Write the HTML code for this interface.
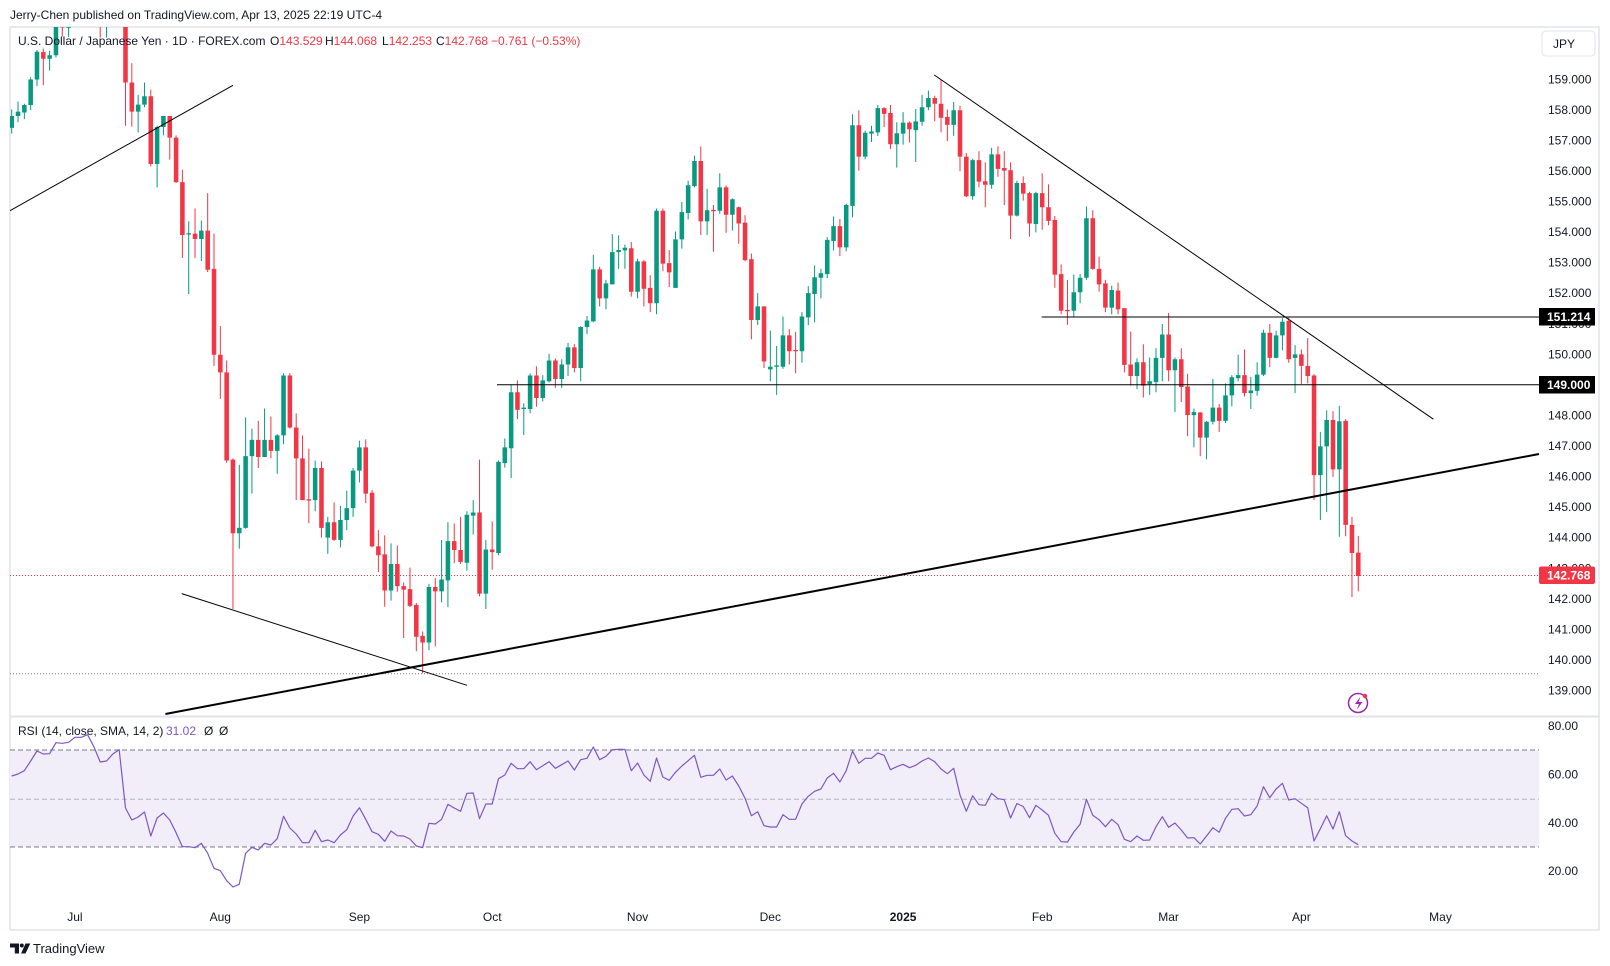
<!DOCTYPE html>
<html><head><meta charset="utf-8"><style>
html,body{margin:0;padding:0;background:#fff;width:1610px;height:966px;overflow:hidden}
svg{display:block}
text{font-family:"Liberation Sans",Arial,sans-serif;fill:#131722}
</style></head><body>
<svg width="1610" height="966" viewBox="0 0 1610 966" xmlns="http://www.w3.org/2000/svg">
<defs>
<clipPath id="cm"><rect x="10" y="27" width="1589" height="689"/></clipPath>
<clipPath id="cr"><rect x="10" y="717" width="1589" height="190"/></clipPath>
</defs>
<rect width="1610" height="966" fill="#fff"/>
<text x="10" y="19" font-size="12">Jerry-Chen published on TradingView.com, Apr 13, 2025 22:19 UTC-4</text>
<rect x="10" y="27" width="1589" height="903" fill="none" stroke="#e0e3eb" stroke-width="1.5"/>
<line x1="10" y1="716.5" x2="1599" y2="716.5" stroke="#e0e3eb" stroke-width="2"/>

<g clip-path="url(#cm)">
<line x1="10" y1="673.7" x2="1539" y2="673.7" stroke="#787b86" stroke-width="1" stroke-dasharray="1 2"/>
<line x1="10" y1="575.5" x2="1539" y2="575.5" stroke="#f23645" stroke-width="1" stroke-dasharray="1 2"/>
<g transform="translate(11.7,20) scale(6.322,0.44053)">
<path fill="none" stroke="#089981" stroke-width="1" vector-effect="non-scaling-stroke" d="M0 203V258M1 185V232M2 190V225M3 130V205M4 68V150M6 70V115M7 -40V85M9 -22V39M10 -54V9M12 -69V-20M15 -13V40M16 -32V11M17 -57V-12M20 170V255M21 142V198M23 240V380M24 218V262M28 457V622M30 455V547M36 1010V1200M37 902V1155M38 928V1075M40 882V992M42 940V1030M43 802V963M48 1000V1115M50 1128V1212M52 1103V1197M53 1068V1158M54 1017V1128M55 955V1050M60 1188V1318M66 1280V1430M68 1180V1322M69 1140V1333M72 1115V1250M73 1090V1168M75 1180V1337M77 1000V1215M78 950V1016M79 828V1040M81 870V942M82 802V893M84 806V866M85 758V823M87 770V835M88 733V808M90 695V820M91 672V713M92 533V686M94 590V657M95 486V600M96 489V565M97 510V565M99 542V632M102 428V668M105 480V608M106 413V519M107 365V453M108 308V380M110 383V488M112 348V440M114 405V478M118 620V692M120 705V820M121 740V851M122 673V792M125 663V778M126 604V693M127 557V686M128 565V632M129 493V586M130 446V523M132 417V525M133 214V448M135 251V316M136 240V277M137 193V263M140 232V335M141 209V283M143 202V322M144 170V240M145 160V205M149 186V263M152 315V408M155 290V383M159 365V446M162 390V482M168 578V673M169 577V643M170 423V590M174 603V668M178 768V838M180 766V851M181 745V845M182 690V820M184 766V890M187 882V970M189 910V997M190 815V918M192 825V915M193 806V877M194 760V820M196 810V883M197 777V853M198 703V808M200 705V768M201 677V750M203 738V847M207 935V1135M208 886V1117M210 876V1173"/>
<path fill="none" stroke="#f23645" stroke-width="1" vector-effect="non-scaling-stroke" d="M5 65V148M8 5V38M11 -55V-23M13 -61V-16M14 -24V40M18 -57V240M19 98V242M22 158V332M25 218V317M26 262V370M27 340V540M29 428V540M31 393V572M32 485V785M33 695V860M34 773V1005M35 995V1337M39 910V1017M41 900V995M44 802V928M45 893V1090M46 943V1090M47 973V1142M49 1002V1175M51 1095V1182M56 952V1097M57 1067V1197M58 1158V1253M59 1170V1332M61 1193V1298M62 1277V1403M63 1243V1333M64 1323V1433M65 1388V1483M67 1267V1422M70 1143V1233M71 1128V1235M74 998V1308M76 1138V1248M80 818V906M83 786V878M86 768V835M89 736V800M93 560V650M98 504V628M100 545V650M101 579V663M103 428V570M104 522V606M109 287V488M111 420V526M113 376V483M115 423V508M116 443V548M117 530V725M119 650V790M123 702V782M124 708V802M131 452V536M134 205V342M138 198V243M139 193V293M142 230V278M146 172V230M147 135V255M148 203V275M150 195V343M151 302V402M153 298V380M154 323V425M156 287V356M157 298V420M158 323V497M160 355V410M161 390V492M163 348V476M164 373V466M165 445V608M166 555V668M167 590V692M171 432V567M172 537V617M173 590V663M175 596V668M176 654V800M177 707V830M179 736V857M183 665V820M185 745V867M186 803V945M188 890V990M191 872V935M195 748V855M199 690V788M202 676V778M204 748V826M205 722V825M206 804V1090M209 888V1037M211 906V1172M212 1128V1310M213 1171V1297"/>
<path fill="#089981" d="M-.36 218h.72V245h-.72zM.64 208h.72V218h-.72zM1.64 193h.72V210h-.72zM2.64 135h.72V193h-.72zM3.64 72h.72V135h-.72zM5.64 80h.72V88h-.72zM6.64 -30h.72V80h-.72zM8.64 5h.72V18h-.72zM9.64 -36h.72V4h-.72zM11.64 -54h.72V-34h-.72zM14.64 9h.72V14h-.72zM15.64 -26h.72V9h-.72zM16.64 -47h.72V-26h-.72zM19.64 192h.72V208h-.72zM20.64 173h.72V192h-.72zM22.64 243h.72V327h-.72zM23.64 218h.72V243h-.72zM27.64 484h.72V487h-.72zM29.64 478h.72V497h-.72zM35.64 1153h.72V1165h-.72zM36.64 990h.72V1153h-.72zM37.64 953h.72V990h-.72zM39.64 953h.72V992h-.72zM41.64 943h.72V978h-.72zM42.64 807h.72V943h-.72zM47.64 1017h.72V1090h-.72zM49.64 1140h.72V1175h-.72zM51.64 1135h.72V1180h-.72zM52.64 1108h.72V1135h-.72zM53.64 1023h.72V1108h-.72zM54.64 970h.72V1023h-.72zM59.64 1235h.72V1295h-.72zM65.64 1287h.72V1413h-.72zM67.64 1270h.72V1297h-.72zM68.64 1183h.72V1272h-.72zM71.64 1123h.72V1232h-.72zM72.64 1118h.72V1125h-.72zM74.64 1202h.72V1302h-.72zM76.64 1003h.72V1210h-.72zM77.64 970h.72V1006h-.72zM78.64 845h.72V972h-.72zM80.64 880h.72V883h-.72zM81.64 807h.72V883h-.72zM83.64 818h.72V858h-.72zM84.64 773h.72V820h-.72zM86.64 782h.72V815h-.72zM87.64 743h.72V782h-.72zM89.64 697h.72V790h-.72zM90.64 682h.72V697h-.72zM91.64 566h.72V684h-.72zM93.64 598h.72V632h-.72zM94.64 527h.72V600h-.72zM95.64 522h.72V527h-.72zM96.64 517h.72V523h-.72zM98.64 548h.72V617h-.72zM101.64 433h.72V643h-.72zM104.64 498h.72V608h-.72zM105.64 436h.72V498h-.72zM106.64 375h.72V438h-.72zM107.64 320h.72V377h-.72zM109.64 432h.72V457h-.72zM111.64 380h.72V433h-.72zM113.64 407h.72V442h-.72zM117.64 650h.72V681h-.72zM119.64 787h.72V793h-.72zM120.64 784h.72V787h-.72zM121.64 716h.72V787h-.72zM124.64 673h.72V752h-.72zM125.64 620h.72V675h-.72zM126.64 584h.72V622h-.72zM127.64 575h.72V585h-.72zM128.64 499h.72V577h-.72zM129.64 468h.72V502h-.72zM131.64 420h.72V516h-.72zM132.64 239h.72V422h-.72zM134.64 256h.72V310h-.72zM135.64 253h.72V258h-.72zM136.64 200h.72V255h-.72zM139.64 257h.72V282h-.72zM140.64 233h.72V258h-.72zM142.64 230h.72V250h-.72zM143.64 198h.72V231h-.72zM144.64 177h.72V198h-.72zM148.64 205h.72V238h-.72zM151.64 318h.72V400h-.72zM154.64 305h.72V374h-.72zM158.64 370h.72V444h-.72zM161.64 393h.72V463h-.72zM167.64 618h.72V660h-.72zM168.64 585h.72V618h-.72zM169.64 450h.72V585h-.72zM173.64 613h.72V653h-.72zM177.64 777h.72V808h-.72zM179.64 820h.72V826h-.72zM180.64 767h.72V822h-.72zM181.64 714h.72V767h-.72zM183.64 770h.72V795h-.72zM186.64 890h.72V897h-.72zM188.64 912h.72V948h-.72zM189.64 880h.72V912h-.72zM191.64 852h.72V910h-.72zM192.64 811h.72V852h-.72zM193.64 806h.72V813h-.72zM195.64 841h.72V847h-.72zM196.64 805h.72V842h-.72zM197.64 710h.72V805h-.72zM199.64 716h.72V767h-.72zM200.64 685h.72V716h-.72zM202.64 759h.72V767h-.72zM206.64 968h.72V1033h-.72zM207.64 908h.72V968h-.72zM209.64 911h.72V1020h-.72z"/>
<path fill="#f23645" d="M4.64 73h.72V88h-.72zM7.64 12h.72V17h-.72zM10.64 -36h.72V-33h-.72zM12.64 -54h.72V-17h-.72zM13.64 -17h.72V14h-.72zM17.64 -45h.72V142h-.72zM18.64 142h.72V208h-.72zM21.64 173h.72V327h-.72zM24.64 218h.72V267h-.72zM25.64 267h.72V368h-.72zM26.64 368h.72V488h-.72zM28.64 485h.72V497h-.72zM30.64 478h.72V567h-.72zM31.64 565h.72V760h-.72zM32.64 760h.72V800h-.72zM33.64 800h.72V1000h-.72zM34.64 998h.72V1165h-.72zM38.64 953h.72V992h-.72zM40.64 953h.72V978h-.72zM43.64 807h.72V925h-.72zM44.64 925h.72V995h-.72zM45.64 995h.72V1090h-.72zM46.64 1088h.72V1091h-.72zM48.64 1017h.72V1153h-.72zM50.64 1140h.72V1180h-.72zM55.64 970h.72V1075h-.72zM56.64 1073h.72V1195h-.72zM57.64 1195h.72V1215h-.72zM58.64 1213h.72V1295h-.72zM60.64 1235h.72V1285h-.72zM61.64 1285h.72V1293h-.72zM62.64 1292h.72V1330h-.72zM63.64 1328h.72V1400h-.72zM64.64 1398h.72V1413h-.72zM66.64 1287h.72V1297h-.72zM69.64 1183h.72V1203h-.72zM70.64 1203h.72V1230h-.72zM73.64 1118h.72V1302h-.72zM75.64 1202h.72V1208h-.72zM79.64 845h.72V885h-.72zM82.64 807h.72V858h-.72zM85.64 773h.72V815h-.72zM88.64 743h.72V790h-.72zM92.64 566h.72V632h-.72zM97.64 518h.72V617h-.72zM99.64 548h.72V610h-.72zM100.64 608h.72V643h-.72zM102.64 433h.72V553h-.72zM103.64 552h.72V573h-.72zM108.64 320h.72V457h-.72zM110.64 431h.72V434h-.72zM112.64 380h.72V442h-.72zM114.64 425h.72V462h-.72zM115.64 460h.72V545h-.72zM116.64 543h.72V681h-.72zM118.64 650h.72V775h-.72zM122.64 716h.72V752h-.72zM123.64 749h.72V752h-.72zM130.64 468h.72V516h-.72zM133.64 239h.72V310h-.72zM137.64 200h.72V213h-.72zM138.64 211h.72V282h-.72zM141.64 233h.72V248h-.72zM145.64 177h.72V190h-.72zM146.64 190h.72V222h-.72zM147.64 220h.72V238h-.72zM149.64 205h.72V310h-.72zM150.64 310h.72V400h-.72zM152.64 318h.72V367h-.72zM153.64 366h.72V374h-.72zM155.64 305h.72V338h-.72zM156.64 336h.72V342h-.72zM157.64 341h.72V444h-.72zM159.64 370h.72V394h-.72zM160.64 393h.72V462h-.72zM162.64 393h.72V425h-.72zM163.64 425h.72V456h-.72zM164.64 454h.72V578h-.72zM165.64 577h.72V660h-.72zM166.64 658h.72V661h-.72zM170.64 450h.72V565h-.72zM171.64 565h.72V600h-.72zM172.64 598h.72V653h-.72zM174.64 614h.72V657h-.72zM175.64 654h.72V783h-.72zM176.64 782h.72V808h-.72zM178.64 777h.72V830h-.72zM182.64 714h.72V795h-.72zM184.64 770h.72V833h-.72zM185.64 832h.72V897h-.72zM187.64 891h.72V948h-.72zM190.64 880h.72V910h-.72zM194.64 806h.72V847h-.72zM198.64 710h.72V767h-.72zM201.64 683h.72V770h-.72zM203.64 759h.72V785h-.72zM204.64 785h.72V808h-.72zM205.64 807h.72V1033h-.72zM208.64 908h.72V1020h-.72zM210.64 910h.72V1146h-.72zM211.64 1146h.72V1210h-.72zM212.64 1209h.72V1262h-.72z"/>
</g>
<line x1="10" y1="210.7" x2="233" y2="85.3" stroke="#000" stroke-width="1"/>
<line x1="181.7" y1="593.6" x2="467" y2="685.3" stroke="#000" stroke-width="1"/>
<line x1="165.4" y1="714" x2="1539" y2="454" stroke="#000" stroke-width="2"/>
<line x1="934.3" y1="75" x2="1433.4" y2="419.2" stroke="#000" stroke-width="1"/>
<line x1="497" y1="384.8" x2="1539" y2="384.8" stroke="#000" stroke-width="1"/>
<line x1="1041.7" y1="317" x2="1539" y2="317" stroke="#000" stroke-width="1"/>
<circle cx="1358" cy="703" r="9.5" fill="#fff" stroke="#9c27b0" stroke-width="1.5"/>
<path d="M1360.5 696.5l-5.5 7.5h4l-2.5 6l6-8h-4z" fill="#9c27b0"/>
<circle cx="1365" cy="696" r="2.2" fill="#f23645"/>
</g>

<text font-size="12" y="45"><tspan x="18">U.S. Dollar / Japanese Yen · 1D · FOREX.com</tspan><tspan x="270">O</tspan><tspan fill="#f23645">143.529</tspan><tspan x="325">H</tspan><tspan fill="#f23645">144.068</tspan><tspan x="382">L</tspan><tspan fill="#f23645">142.253</tspan><tspan x="436">C</tspan><tspan fill="#f23645">142.768</tspan><tspan x="491" fill="#f23645">−0.761 (−0.53%)</tspan></text>

<rect x="1542" y="31" width="53" height="25" rx="4" fill="#fff" stroke="#e0e3eb"/>
<text x="1553" y="48" font-size="12">JPY</text>
<g font-size="12">
<text x="1548" y="83.3">159.000</text>
<text x="1548" y="113.9">158.000</text>
<text x="1548" y="144.4">157.000</text>
<text x="1548" y="175">156.000</text>
<text x="1548" y="205.5">155.000</text>
<text x="1548" y="236.1">154.000</text>
<text x="1548" y="266.7">153.000</text>
<text x="1548" y="297.2">152.000</text>
<text x="1548" y="327.8">151.000</text>
<text x="1548" y="358.4">150.000</text>
<text x="1548" y="419.5">148.000</text>
<text x="1548" y="450">147.000</text>
<text x="1548" y="480.6">146.000</text>
<text x="1548" y="511.2">145.000</text>
<text x="1548" y="541.7">144.000</text>
<text x="1548" y="572.3">143.000</text>
<text x="1548" y="602.9">142.000</text>
<text x="1548" y="633.4">141.000</text>
<text x="1548" y="664">140.000</text>
<text x="1548" y="694.5">139.000</text>
</g>
<rect x="1539" y="308" width="56" height="17.5" fill="#000"/>
<text x="1547" y="321" font-size="12" font-weight="bold" style="fill:#fff">151.214</text>
<rect x="1539" y="376" width="56" height="17.5" fill="#000"/>
<text x="1547" y="389" font-size="12" font-weight="bold" style="fill:#fff">149.000</text>
<rect x="1539" y="566.5" width="56" height="17.5" rx="2" fill="#f23645"/>
<text x="1547" y="579.5" font-size="12" font-weight="bold" style="fill:#fff">142.768</text>

<g clip-path="url(#cr)">
<rect x="10" y="750" width="1529" height="97" fill="#f2eef9"/>
<line x1="10" y1="750" x2="1539" y2="750" stroke="#787b86" stroke-width="1" stroke-dasharray="5 3"/>
<line x1="10" y1="799.3" x2="1539" y2="799.3" stroke="#b2b5be" stroke-width="1" stroke-dasharray="5 3"/>
<line x1="10" y1="847" x2="1539" y2="847" stroke="#787b86" stroke-width="1" stroke-dasharray="5 3"/>
<g transform="translate(11.7,0) scale(6.322,1)">
<polyline fill="none" stroke="#7e57c2" stroke-width="1.2" vector-effect="non-scaling-stroke" stroke-linejoin="round" points="0,776 1,774 2,770.7 3,761 4,751 5,754 6,753.7 7,742.7 8,743.3 9,742.3 10,737.3 11,737.3 12,734.7 13,746.7 14,762 15,761 16,754 17,749.7 18,808 19,820 20,817 21,812 22,836 23,818 24,813 25,820 26,832.7 27,846.7 28,846.7 29,847.7 30,843.3 31,853.3 32,868.3 33,870.7 34,880.7 35,887 36,884.3 37,853.3 38,847.3 39,850 40,843.3 41,845 42,838.7 43,816.3 44,828 45,834 46,842.7 47,842.7 48,830.3 49,841.7 50,840 51,842.7 52,835 53,829.7 54,816 55,807.7 56,819.3 57,831.7 58,834.3 59,841.3 60,831 61,835.7 62,836 63,839 64,846 65,847.7 66,823.3 67,824 68,819.3 69,804.3 70,808 71,811.3 72,793.3 73,793 74,818.7 75,804 76,804 77,778.7 78,775 79,763.3 80,768.7 81,768.7 82,761.7 83,769.7 84,765.7 85,761.7 86,768.3 87,764.7 88,761 89,770 90,759.7 91,758.3 92,747 93,759.7 94,756.3 95,749.7 96,749.3 97,749.3 98,770.7 99,763 100,775 101,781.3 102,758 103,777 104,780.3 105,772.3 106,766 107,760.7 108,755.3 109,777.3 110,775.3 111,775.3 112,769 113,780 114,776 115,786 116,798.3 117,815.7 118,811.7 119,825.7 120,827 121,827 122,814.7 123,819.3 124,819.3 125,804 126,796.3 127,791.3 128,789 129,778 130,773.3 131,782 132,770.7 133,751 134,763.3 135,758.3 136,758.3 137,753 138,755.3 139,769.7 140,766.7 141,764.3 142,767.7 143,765.3 144,761 145,758 146,761.7 147,769 148,773.7 149,768.3 150,795 151,811.3 152,795.7 153,804.7 154,805.3 155,793.3 156,798.7 157,799.7 158,818 159,803.5 160,806.5 161,817.7 162,805.3 163,810 164,815.3 165,833.3 166,841.7 167,842 168,832 169,824.3 170,799.3 171,815.3 172,819.7 173,826.7 174,819.3 175,824.7 176,839.3 177,841.7 178,836 179,840.3 180,840 181,826.7 182,816.7 183,827.3 184,823 185,830 186,838 187,837.7 188,844 189,836 190,827.7 191,832.3 192,818.3 193,809.3 194,808.7 195,816 196,814.7 197,806 198,786.7 199,797.7 200,789 201,783.3 202,800 203,798.7 204,803.3 205,807.7 206,841 207,828.7 208,815.7 209,829 210,811.7 211,835.7 212,841 213,844.7"/>
</g>
</g>
<text font-size="12" y="735"><tspan x="18">RSI (14, close, SMA, 14, 2)</tspan><tspan x="166" fill="#7e57c2">31.02</tspan><tspan x="204">Ø</tspan><tspan x="219">Ø</tspan></text>
<g font-size="12">
<text x="1548" y="730">80.00</text>
<text x="1548" y="778.4">60.00</text>
<text x="1548" y="826.8">40.00</text>
<text x="1548" y="875.2">20.00</text>
</g>

<g font-size="12" text-anchor="middle">
<text x="74.9" y="921">Jul</text>
<text x="220.3" y="921">Aug</text>
<text x="359.4" y="921">Sep</text>
<text x="492.2" y="921">Oct</text>
<text x="637.6" y="921">Nov</text>
<text x="770.3" y="921">Dec</text>
<text x="903.1" y="921" font-weight="bold">2025</text>
<text x="1042.2" y="921">Feb</text>
<text x="1168.6" y="921">Mar</text>
<text x="1301.4" y="921">Apr</text>
<text x="1440.5" y="921">May</text>
</g>

<path d="M10 943.5h9v10h-4.2v-6h-4.8z" fill="#131722"/>
<circle cx="21.8" cy="945.5" r="2" fill="#131722"/>
<path d="M25.5 943.5h4.8l-4.8 10h-4.4z" fill="#131722"/>
<text x="33" y="953" font-size="13">TradingView</text>
</svg>
</body></html>
